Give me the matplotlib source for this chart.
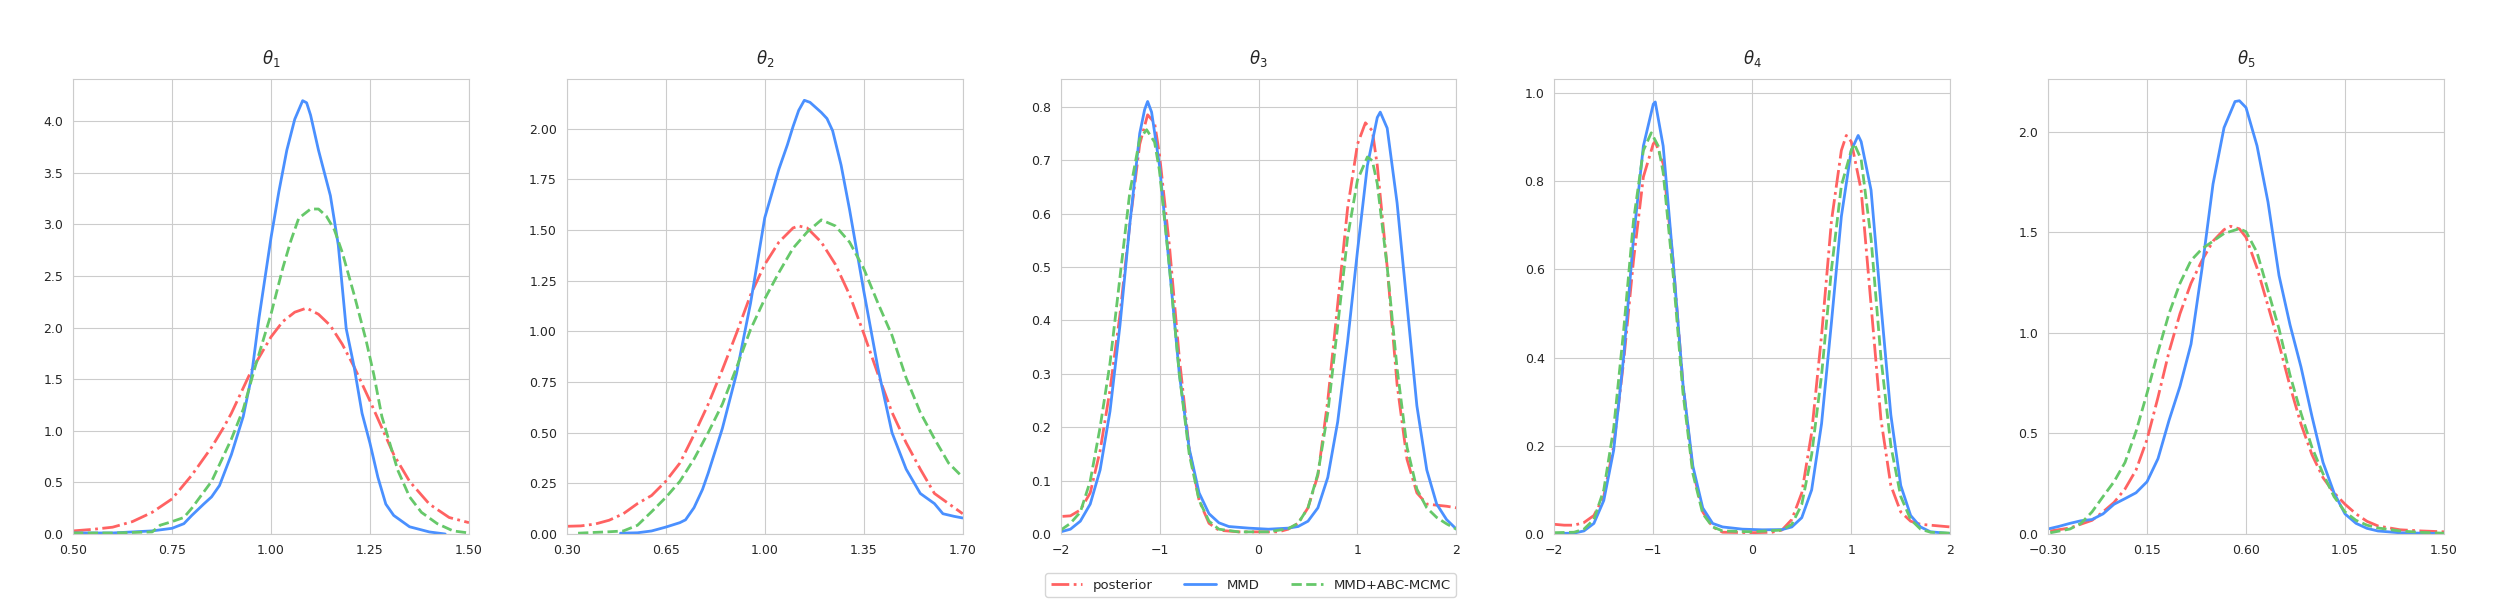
import matplotlib
matplotlib.use('Agg')
import matplotlib.pyplot as plt
import seaborn as sns

# theta_1
t1_post_x = [0.50, 0.55, 0.60, 0.65, 0.70, 0.75, 0.80, 0.85, 0.88, 0.90, 0.95, 1.00, 1.03, 1.06, 1.09,
             1.12, 1.15, 1.18, 1.21, 1.25, 1.28, 1.31, 1.35, 1.40, 1.45, 1.50]
t1_post_y = [0.03, 0.045, 0.066, 0.12, 0.21, 0.34, 0.57, 0.84, 1.03, 1.17, 1.58, 1.91, 2.06, 2.15, 2.19,
             2.13, 2.02, 1.84, 1.62, 1.29, 1.03, 0.77, 0.51, 0.29, 0.16, 0.11]
t1_mmd_x = [0.50, 0.60, 0.70, 0.75, 0.78, 0.80, 0.83, 0.85, 0.87, 0.90, 0.93, 0.95, 0.97, 1.00, 1.02,
            1.04, 1.06, 1.08, 1.09, 1.10, 1.12, 1.15, 1.17, 1.19, 1.21, 1.23, 1.25, 1.27, 1.29, 1.31,
            1.35, 1.40, 1.44]
t1_mmd_y = [0.01, 0.01, 0.03, 0.055, 0.10, 0.18, 0.29, 0.36, 0.47, 0.77, 1.14, 1.51, 2.10, 2.87, 3.32,
            3.72, 4.02, 4.20, 4.18, 4.06, 3.72, 3.28, 2.80, 1.99, 1.62, 1.17, 0.88, 0.55, 0.29, 0.18,
            0.07, 0.02, 0.0]
t1_abc_x = [0.50, 0.60, 0.70, 0.72, 0.75, 0.78, 0.80, 0.85, 0.90, 0.93, 0.96, 1.00, 1.03, 1.05, 1.07,
            1.10, 1.12, 1.14, 1.16, 1.18, 1.21, 1.24, 1.26, 1.28, 1.30, 1.32, 1.35, 1.38, 1.42, 1.46, 1.50]
t1_abc_y = [0.01, 0.01, 0.02, 0.085, 0.12, 0.16, 0.25, 0.51, 0.92, 1.21, 1.62, 2.13, 2.58, 2.84, 3.06,
            3.15, 3.15, 3.08, 2.95, 2.73, 2.32, 1.88, 1.54, 1.14, 0.88, 0.62, 0.36, 0.21, 0.10, 0.03, 0.01]

# theta_2
t2_post_x = [0.30, 0.35, 0.40, 0.45, 0.50, 0.55, 0.60, 0.65, 0.70, 0.75, 0.80, 0.85, 0.90, 0.95, 1.00,
             1.05, 1.10, 1.12, 1.15, 1.20, 1.25, 1.30, 1.35, 1.40, 1.45, 1.50, 1.55, 1.60, 1.65, 1.70]
t2_post_y = [0.038, 0.04, 0.049, 0.068, 0.10, 0.15, 0.19, 0.26, 0.35, 0.49, 0.64, 0.81, 0.99, 1.18, 1.33,
             1.44, 1.51, 1.52, 1.51, 1.44, 1.33, 1.18, 0.99, 0.79, 0.60, 0.45, 0.32, 0.20, 0.15, 0.10]
t2_mmd_x = [0.49, 0.55, 0.60, 0.65, 0.70, 0.72, 0.75, 0.78, 0.80, 0.85, 0.90, 0.95, 1.00, 1.05, 1.08,
            1.10, 1.12, 1.14, 1.16, 1.20, 1.22, 1.24, 1.27, 1.30, 1.35, 1.40, 1.45, 1.50, 1.55, 1.60,
            1.63, 1.67, 1.70]
t2_mmd_y = [0.004, 0.006, 0.015, 0.034, 0.056, 0.07, 0.13, 0.22, 0.30, 0.52, 0.79, 1.14, 1.56, 1.80, 1.92,
            2.01, 2.09, 2.14, 2.13, 2.08, 2.05, 1.99, 1.82, 1.60, 1.20, 0.82, 0.50, 0.32, 0.20, 0.15,
            0.10, 0.087, 0.079]
t2_abc_x = [0.34, 0.40, 0.45, 0.50, 0.55, 0.60, 0.65, 0.70, 0.75, 0.80, 0.85, 0.90, 0.95, 1.00, 1.05,
            1.10, 1.15, 1.20, 1.25, 1.30, 1.35, 1.40, 1.45, 1.50, 1.55, 1.60, 1.65, 1.70]
t2_abc_y = [0.004, 0.008, 0.011, 0.015, 0.043, 0.11, 0.18, 0.26, 0.37, 0.50, 0.64, 0.82, 1.01, 1.16, 1.29,
            1.41, 1.49, 1.55, 1.52, 1.44, 1.31, 1.14, 0.98, 0.77, 0.60, 0.47, 0.35, 0.28]

# theta_3
t3_post_x = [-1.98, -1.9, -1.8, -1.7, -1.6, -1.5, -1.4, -1.3, -1.2, -1.12, -1.05, -1.0, -0.9, -0.8, -0.7,
             -0.6, -0.5, -0.4, -0.2, 0.0, 0.2, 0.3, 0.4, 0.5, 0.6, 0.7, 0.8, 0.9, 1.0, 1.08,
             1.15, 1.2, 1.3, 1.4, 1.5, 1.6, 1.7, 1.8, 1.9, 2.0]
t3_post_y = [0.033, 0.034, 0.045, 0.077, 0.156, 0.27, 0.41, 0.58, 0.73, 0.785, 0.77, 0.71, 0.54, 0.33, 0.16,
             0.063, 0.02, 0.007, 0.004, 0.004, 0.004, 0.009, 0.02, 0.049, 0.11, 0.25, 0.43, 0.61, 0.73, 0.77,
             0.755, 0.69, 0.50, 0.28, 0.14, 0.077, 0.056, 0.054, 0.052, 0.049]
t3_mmd_x = [-2.0, -1.9, -1.8, -1.7, -1.6, -1.5, -1.4, -1.3, -1.2, -1.15, -1.12, -1.08, -1.0, -0.9, -0.8,
            -0.7, -0.6, -0.5, -0.4, -0.3, -0.1, 0.1, 0.3, 0.4, 0.5, 0.6, 0.7, 0.8, 0.9, 1.0,
            1.1, 1.2, 1.23, 1.3, 1.4, 1.5, 1.6, 1.7, 1.8, 1.9, 2.0]
t3_mmd_y = [0.004, 0.009, 0.024, 0.056, 0.12, 0.23, 0.39, 0.58, 0.75, 0.795, 0.81, 0.79, 0.69, 0.50, 0.30,
            0.16, 0.077, 0.038, 0.021, 0.014, 0.011, 0.009, 0.011, 0.014, 0.024, 0.049, 0.106, 0.21, 0.36, 0.53,
            0.69, 0.78, 0.79, 0.76, 0.62, 0.43, 0.24, 0.12, 0.056, 0.027, 0.009]
t3_abc_x = [-2.0, -1.9, -1.8, -1.7, -1.6, -1.5, -1.4, -1.3, -1.2, -1.13, -1.05, -1.0, -0.9, -0.8, -0.7,
            -0.6, -0.5, -0.4, -0.2, 0.1, 0.3, 0.4, 0.5, 0.6, 0.7, 0.8, 0.9, 1.0, 1.1, 1.15,
            1.2, 1.3, 1.4, 1.5, 1.6, 1.7, 1.8, 1.9, 2.0]
t3_abc_y = [0.007, 0.02, 0.041, 0.099, 0.20, 0.32, 0.48, 0.64, 0.74, 0.757, 0.734, 0.68, 0.50, 0.30, 0.15,
            0.063, 0.024, 0.009, 0.004, 0.004, 0.01, 0.02, 0.049, 0.113, 0.227, 0.39, 0.556, 0.663, 0.706, 0.699,
            0.656, 0.50, 0.31, 0.163, 0.084, 0.049, 0.031, 0.019, 0.009]

# theta_4
t4_post_x = [-2.0, -1.9, -1.8, -1.7, -1.6, -1.5, -1.4, -1.3, -1.2, -1.1, -1.0, -0.98, -0.9, -0.8, -0.7,
             -0.6, -0.5, -0.4, -0.3, 0.0, 0.2, 0.3, 0.4, 0.5, 0.6, 0.7, 0.8, 0.9, 0.95, 1.0,
             1.1, 1.2, 1.3, 1.4, 1.5, 1.6, 1.7, 1.8, 2.0]
t4_post_y = [0.022, 0.02, 0.02, 0.026, 0.042, 0.085, 0.20, 0.39, 0.62, 0.81, 0.885, 0.89, 0.84, 0.62, 0.34,
             0.145, 0.05, 0.016, 0.004, 0.003, 0.004, 0.009, 0.033, 0.093, 0.23, 0.45, 0.71, 0.87, 0.904, 0.89,
             0.78, 0.52, 0.26, 0.11, 0.05, 0.029, 0.022, 0.02, 0.016]
t4_mmd_x = [-2.0, -1.8, -1.7, -1.6, -1.5, -1.4, -1.3, -1.2, -1.1, -1.0, -0.98, -0.9, -0.8, -0.7, -0.6,
            -0.5, -0.4, -0.3, -0.1, 0.1, 0.3, 0.4, 0.5, 0.6, 0.7, 0.8, 0.9, 1.0, 1.07, 1.1,
            1.2, 1.3, 1.4, 1.5, 1.6, 1.7, 1.8, 2.0]
t4_mmd_y = [0.001, 0.002, 0.007, 0.024, 0.076, 0.19, 0.40, 0.67, 0.88, 0.975, 0.98, 0.88, 0.62, 0.34, 0.154,
            0.059, 0.024, 0.016, 0.011, 0.0095, 0.01, 0.016, 0.037, 0.10, 0.25, 0.48, 0.72, 0.87, 0.904, 0.89,
            0.78, 0.52, 0.27, 0.11, 0.042, 0.016, 0.005, 0.001]
t4_abc_x = [-2.0, -1.8, -1.7, -1.6, -1.5, -1.4, -1.3, -1.2, -1.1, -1.02, -0.95, -0.9, -0.8, -0.7, -0.6,
            -0.5, -0.4, -0.3, 0.0, 0.3, 0.4, 0.5, 0.6, 0.7, 0.8, 0.9, 1.0, 1.03, 1.1, 1.2,
            1.3, 1.4, 1.5, 1.6, 1.7, 1.8, 2.0]
t4_abc_y = [0.003, 0.004, 0.011, 0.033, 0.10, 0.24, 0.46, 0.71, 0.87, 0.91, 0.88, 0.82, 0.59, 0.32, 0.137,
            0.046, 0.016, 0.007, 0.005, 0.009, 0.022, 0.067, 0.18, 0.36, 0.60, 0.79, 0.87, 0.885, 0.85, 0.67,
            0.40, 0.20, 0.085, 0.033, 0.011, 0.004, 0.002]

# theta_5
t5_post_x = [-0.29, -0.20, -0.10, -0.05, 0.00, 0.05, 0.10, 0.15, 0.20, 0.25, 0.30, 0.35, 0.40, 0.45, 0.50,
             0.53, 0.57, 0.60, 0.65, 0.70, 0.75, 0.80, 0.85, 0.90, 0.95, 1.00, 1.05, 1.10, 1.15, 1.20,
             1.30, 1.40, 1.50]
t5_post_y = [0.015, 0.03, 0.068, 0.11, 0.157, 0.224, 0.318, 0.47, 0.68, 0.906, 1.096, 1.247, 1.36, 1.456, 1.513,
             1.53, 1.517, 1.475, 1.323, 1.134, 0.944, 0.735, 0.546, 0.394, 0.28, 0.205, 0.148, 0.10, 0.063, 0.04,
             0.021, 0.015, 0.011]
t5_mmd_x = [-0.30, -0.25, -0.20, -0.15, -0.10, -0.05, 0.00, 0.05, 0.10, 0.15, 0.20, 0.25, 0.30, 0.35, 0.40,
            0.45, 0.50, 0.55, 0.57, 0.60, 0.65, 0.70, 0.75, 0.80, 0.85, 0.90, 0.95, 1.00, 1.05, 1.10,
            1.15, 1.20, 1.30, 1.50]
t5_mmd_y = [0.025, 0.038, 0.053, 0.066, 0.072, 0.10, 0.148, 0.176, 0.205, 0.26, 0.375, 0.565, 0.735, 0.944, 1.32,
            1.74, 2.02, 2.15, 2.154, 2.12, 1.93, 1.65, 1.285, 1.04, 0.83, 0.584, 0.356, 0.205, 0.10, 0.053,
            0.028, 0.015, 0.006, 0.002]
t5_abc_x = [-0.29, -0.20, -0.15, -0.10, -0.05, 0.00, 0.05, 0.10, 0.15, 0.20, 0.25, 0.30, 0.35, 0.40, 0.45,
            0.50, 0.57, 0.60, 0.65, 0.70, 0.75, 0.80, 0.85, 0.90, 0.95, 1.00, 1.05, 1.10, 1.15, 1.20,
            1.30, 1.40, 1.50]
t5_abc_y = [0.006, 0.025, 0.053, 0.11, 0.186, 0.26, 0.356, 0.51, 0.70, 0.906, 1.096, 1.247, 1.36, 1.418, 1.456,
            1.494, 1.518, 1.503, 1.40, 1.21, 1.02, 0.79, 0.60, 0.43, 0.30, 0.186, 0.11, 0.068, 0.044, 0.03,
            0.015, 0.008, 0.004]

titles = [r'$\theta_1$', r'$\theta_2$', r'$\theta_3$', r'$\theta_4$', r'$\theta_5$']
xlims = [(0.5, 1.5), (0.3, 1.7), (-2, 2), (-2, 2), (-0.3, 1.5)]
xticks = [[0.5, 0.75, 1.0, 1.25, 1.5],
          [0.3, 0.65, 1.0, 1.35, 1.7],
          [-2, -1, 0, 1, 2],
          [-2, -1, 0, 1, 2],
          [-0.3, 0.15, 0.6, 1.05, 1.5]]
ytops = [4.41, 2.245, 0.852, 1.032, 2.262]

posterior = [(t1_post_x, t1_post_y), (t2_post_x, t2_post_y), (t3_post_x, t3_post_y),
             (t4_post_x, t4_post_y), (t5_post_x, t5_post_y)]
mmd = [(t1_mmd_x, t1_mmd_y), (t2_mmd_x, t2_mmd_y), (t3_mmd_x, t3_mmd_y),
       (t4_mmd_x, t4_mmd_y), (t5_mmd_x, t5_mmd_y)]
mmd_abc = [(t1_abc_x, t1_abc_y), (t2_abc_x, t2_abc_y), (t3_abc_x, t3_abc_y),
           (t4_abc_x, t4_abc_y), (t5_abc_x, t5_abc_y)]

red = '#ff6262'
blue = '#4a90ff'
green = '#66c86a'

sns.set_style('whitegrid')
plt.rcParams['font.family'] = ['DejaVu Sans']

fig, axes = plt.subplots(1, 5, figsize=(25, 6), dpi=100)
fig.subplots_adjust(left=0.0292, right=0.9776, top=0.8683, bottom=0.11, wspace=0.247)

for i, ax in enumerate(axes):
    ax.plot(*posterior[i], color=red, ls='-.', lw=2, label='posterior')
    ax.plot(*mmd[i], color=blue, ls='-', lw=2, label='MMD')
    ax.plot(*mmd_abc[i], color=green, ls='--', lw=2, label='MMD+ABC-MCMC')
    ax.set_xlim(*xlims[i])
    ax.set_xticks(xticks[i])
    ax.set_ylim(0, ytops[i])
    ax.set_title(titles[i], fontsize=12, pad=11, color='#262626')
    ax.tick_params(labelsize=9, colors='#262626')
    for s in ax.spines.values():
        s.set_color('#cccccc')

axes[2].legend(loc='upper center', bbox_to_anchor=(0.48, -0.072), ncol=3, fontsize=9.5,
               frameon=True, edgecolor='#cccccc', handlelength=2.4, columnspacing=2.4)

plt.savefig('out.png')
